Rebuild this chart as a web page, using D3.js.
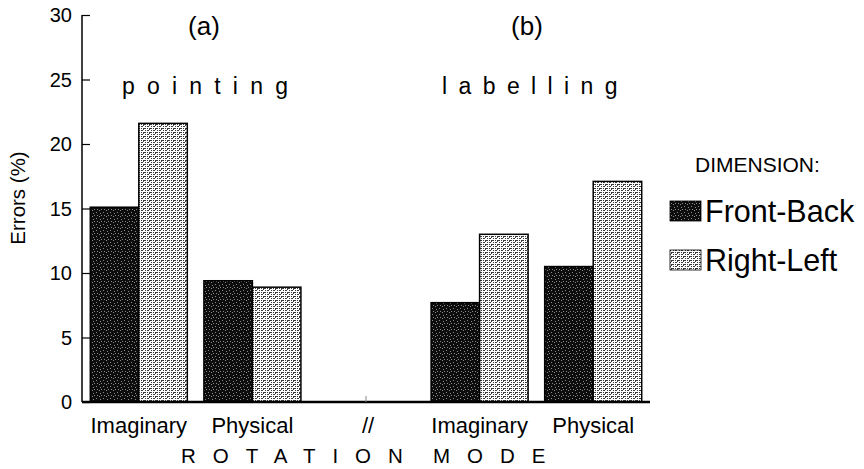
<!DOCTYPE html>
<html>
<head>
<meta charset="utf-8">
<script src="https://cdn.jsdelivr.net/npm/d3@7"></script>
<style>
  html, body { margin: 0; padding: 0; background: #fff; }
  svg { display: block; font-family: "Liberation Sans", Arial, Helvetica, sans-serif; }
</style>
</head>
<body>
<svg id="chart" width="864" height="469"></svg>
<script>
// ---- data ----
const slots = ["a-Imaginary", "a-Physical", "gap", "b-Imaginary", "b-Physical"];
const slotLabels = ["Imaginary", "Physical", "//", "Imaginary", "Physical"];
const series = ["Front-Back", "Right-Left"];
const frontBack = [15.1, 9.4, null, 7.7, 10.5];
const rightLeft = [21.6, 8.9, null, 13.0, 17.1];
const yTicks = [0, 5, 10, 15, 20, 25, 30];
const panelTitles = ["(a)", "(b)"];
const panelNames = ["pointing", "labelling"];
const yTitle = "Errors (%)";
const xTitleWords = ["ROTATION", "MODE"];
const legendTitle = "DIMENSION:";

const svg = d3.select("#chart");

// ---- patterns ----
const defs = svg.append("defs");
const pFB = defs.append("pattern").attr("id", "pFB").attr("patternUnits", "userSpaceOnUse")
  .attr("width", 7).attr("height", 6);
pFB.append("rect").attr("width", 7).attr("height", 6).attr("fill", "#0d0d0d");
[[1,0],[5,2],[2,3],[6,5],[3,5]].forEach(([x,y]) =>
  pFB.append("rect").attr("x", x).attr("y", y).attr("width", 1).attr("height", 1).attr("fill", "#8a8a8a"));

const pRL = defs.append("pattern").attr("id", "pRL").attr("patternUnits", "userSpaceOnUse")
  .attr("width", 6).attr("height", 4);
pRL.append("rect").attr("width", 6).attr("height", 4).attr("fill", "#ffffff");
[[0,0,2,1],[3,0,1,1],[5,0,1,2],[1,2,1,1],[3,2,2,1]].forEach(([x,y,w,h]) =>
  pRL.append("rect").attr("x", x).attr("y", y).attr("width", w).attr("height", h).attr("fill", "#3a3a3a"));

const fills = { "Front-Back": "url(#pFB)", "Right-Left": "url(#pRL)" };

// ---- scales ----
const x0 = d3.scaleBand().domain(slots).range([82, 650]).paddingInner(0.146).paddingOuter(0.073);
const x1 = d3.scaleBand().domain(series).range([0, x0.bandwidth()]);
const y = d3.scaleLinear().domain([0, 30]).range([402, 15]);

// ---- bars ----
const rows = slots.map((s, i) => ({ slot: s, values: { "Front-Back": frontBack[i], "Right-Left": rightLeft[i] } }));
const g = svg.append("g");
rows.forEach(r => {
  series.forEach(sr => {
    const v = r.values[sr];
    if (v == null) return;
    g.append("rect")
      .attr("x", x0(r.slot) + x1(sr))
      .attr("y", y(v))
      .attr("width", x1.bandwidth())
      .attr("height", y(0) - y(v))
      .attr("fill", fills[sr])
      .attr("stroke", "#000")
      .attr("stroke-width", 1.5);
  });
});

// ---- y axis ----
const yAxis = d3.axisRight(y).tickValues(yTicks).tickSize(8).tickFormat("");
const ya = svg.append("g").attr("transform", "translate(82,0)").call(yAxis);
ya.select(".domain").attr("stroke", "#000").attr("stroke-width", 1.5).attr("d", `M0,${y(30)}V${y(0)}`);
ya.selectAll(".tick line").attr("stroke", "#000").attr("stroke-width", 1.2);
svg.append("g").selectAll("text").data(yTicks).join("text")
  .attr("x", 72).attr("y", d => y(d)).attr("dy", "0.36em")
  .attr("text-anchor", "end").attr("font-size", 20).attr("fill", "#000")
  .text(d => d);

svg.append("text")
  .attr("transform", `translate(25,198) rotate(-90)`)
  .attr("text-anchor", "middle").attr("font-size", 20.5).text(yTitle);

// ---- x axis ----
svg.append("line").attr("x1", 82).attr("x2", 650).attr("y1", y(0)).attr("y2", y(0))
  .attr("stroke", "#000").attr("stroke-width", 2.5);
const gapX = x0("gap") + x0.bandwidth() / 2;
svg.append("line").attr("x1", gapX).attr("x2", gapX).attr("y1", y(0)).attr("y2", y(0) - 6)
  .attr("stroke", "#888").attr("stroke-width", 1);
svg.append("g").selectAll("text").data(slots).join("text")
  .attr("x", (d) => x0(d) + x0.bandwidth() / 2 + (d === "gap" ? 2 : 0))
  .attr("y", 433).attr("text-anchor", "middle").attr("font-size", 22)
  .text((d, i) => slotLabels[i]);

svg.append("text").attr("x", 181).attr("y", 463).attr("font-size", 20.5)
  .attr("letter-spacing", 17).text(xTitleWords[0]);
svg.append("text").attr("x", 433).attr("y", 463).attr("font-size", 20.5)
  .attr("letter-spacing", 17).text(xTitleWords[1]);

// ---- panel titles ----
const panelCenters = [204, 527];
panelTitles.forEach((t, i) => {
  svg.append("text").attr("x", panelCenters[i]).attr("y", 35).attr("text-anchor", "middle")
    .attr("font-size", 26).text(t);
});
svg.append("text").attr("x", 122).attr("y", 94).attr("font-size", 23)
  .attr("letter-spacing", 12.2).text(panelNames[0]);
svg.append("text").attr("x", 442).attr("y", 94).attr("font-size", 23)
  .attr("letter-spacing", 11.4).text(panelNames[1]);

// ---- legend ----
svg.append("text").attr("x", 695).attr("y", 172).attr("font-size", 21).text(legendTitle);
const legY = [201, 250];
series.forEach((s, i) => {
  svg.append("rect").attr("x", 670).attr("y", legY[i]).attr("width", 31).attr("height", 20)
    .attr("fill", fills[s]).attr("stroke", "#000").attr("stroke-width", 0.8);
  svg.append("text").attr("x", 705).attr("y", legY[i] + 21).attr("font-size", 30.5).text(s);
});
</script>
</body>
</html>
